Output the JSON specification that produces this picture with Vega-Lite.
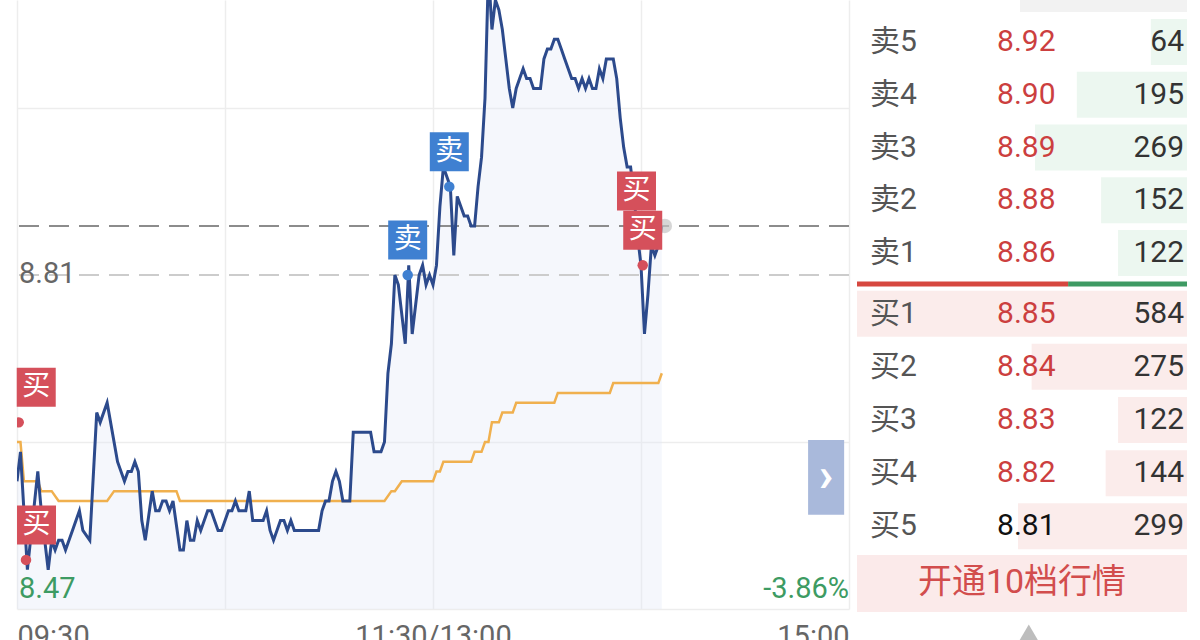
{
  "$schema": "https://vega.github.io/schema/vega-lite/v6.json",
  "background": "white",
  "padding": {"left": 16, "top": 0, "right": 0, "bottom": 0},
  "config": {"view": {"stroke": null}, "font": "Roboto"},
  "spacing": 7,
  "resolve": {"scale": {"color": "independent"}},
  "datasets": {
    "price": [
      {"t":0,"price":8.60},{"t":1,"price":8.63},{"t":3,"price":8.51},{"t":6,"price":8.61},{"t":7,"price":8.57},
      {"t":9,"price":8.51},{"t":10,"price":8.54},{"t":11,"price":8.53},{"t":12,"price":8.54},{"t":13,"price":8.54},
      {"t":14,"price":8.53},{"t":16,"price":8.55},{"t":18,"price":8.57},{"t":19,"price":8.55},{"t":21,"price":8.54},
      {"t":23,"price":8.67},{"t":24,"price":8.66},{"t":26,"price":8.68},{"t":28,"price":8.64},{"t":29,"price":8.62},
      {"t":31,"price":8.60},{"t":32,"price":8.61},{"t":33,"price":8.61},{"t":34,"price":8.62},{"t":35,"price":8.61},
      {"t":36,"price":8.56},{"t":37,"price":8.54},{"t":39,"price":8.59},{"t":40,"price":8.57},{"t":41,"price":8.57},
      {"t":42,"price":8.58},{"t":43,"price":8.58},{"t":44,"price":8.57},{"t":45,"price":8.58},{"t":47,"price":8.53},
      {"t":48,"price":8.53},{"t":49,"price":8.56},{"t":50,"price":8.54},{"t":51,"price":8.54},{"t":52,"price":8.56},
      {"t":53,"price":8.55},{"t":55,"price":8.57},{"t":56,"price":8.57},{"t":58,"price":8.55},{"t":59,"price":8.55},
      {"t":61,"price":8.57},{"t":62,"price":8.57},{"t":63,"price":8.58},{"t":64,"price":8.57},{"t":66,"price":8.57},
      {"t":67,"price":8.59},{"t":68,"price":8.56},{"t":71,"price":8.56},{"t":72,"price":8.57},{"t":73,"price":8.55},
      {"t":74,"price":8.54},{"t":76,"price":8.56},{"t":77,"price":8.56},{"t":78,"price":8.55},{"t":79,"price":8.56},
      {"t":80,"price":8.55},{"t":87,"price":8.55},{"t":88,"price":8.57},{"t":89,"price":8.58},{"t":90,"price":8.58},
      {"t":91,"price":8.60},{"t":92,"price":8.61},{"t":93,"price":8.60},{"t":94,"price":8.58},{"t":96,"price":8.58},
      {"t":97,"price":8.65},{"t":102,"price":8.65},{"t":103,"price":8.63},{"t":105,"price":8.63},{"t":106,"price":8.64},
      {"t":107,"price":8.71},{"t":108,"price":8.74},{"t":109,"price":8.81},{"t":110,"price":8.80},{"t":111,"price":8.77},
      {"t":112,"price":8.74},{"t":113,"price":8.82},{"t":114,"price":8.75},{"t":115,"price":8.78},{"t":116,"price":8.81},
      {"t":117,"price":8.82},{"t":118,"price":8.80},{"t":119,"price":8.81},{"t":120,"price":8.80},{"t":121,"price":8.82},
      {"t":122,"price":8.88},{"t":123,"price":8.92},{"t":124,"price":8.91},{"t":125,"price":8.90},{"t":126,"price":8.83},
      {"t":127,"price":8.89},{"t":128,"price":8.88},{"t":129,"price":8.87},{"t":130,"price":8.87},{"t":131,"price":8.86},
      {"t":132,"price":8.86},{"t":133,"price":8.90},{"t":134,"price":8.93},{"t":135,"price":8.99},{"t":136,"price":9.12},
      {"t":137,"price":9.06},{"t":138,"price":9.09},{"t":139,"price":9.08},{"t":140,"price":9.06},{"t":141,"price":9.03},
      {"t":142,"price":9.00},{"t":143,"price":8.98},{"t":144,"price":9.00},{"t":145,"price":9.01},{"t":146,"price":9.02},
      {"t":147,"price":9.01},{"t":148,"price":9.01},{"t":149,"price":9.00},{"t":150,"price":9.00},{"t":151,"price":9.00},
      {"t":152,"price":9.03},{"t":153,"price":9.04},{"t":154,"price":9.04},{"t":155,"price":9.05},{"t":156,"price":9.05},
      {"t":157,"price":9.04},{"t":158,"price":9.03},{"t":159,"price":9.02},{"t":160,"price":9.01},{"t":161,"price":9.01},
      {"t":162,"price":9.00},{"t":163,"price":9.01},{"t":164,"price":9.00},{"t":165,"price":9.01},{"t":166,"price":9.00},
      {"t":167,"price":9.00},{"t":168,"price":9.02},{"t":169,"price":9.01},{"t":170,"price":9.03},{"t":171,"price":9.03},
      {"t":172,"price":9.03},{"t":173,"price":9.01},{"t":174,"price":8.97},{"t":175,"price":8.94},{"t":176,"price":8.92},
      {"t":177,"price":8.92},{"t":178,"price":8.89},{"t":179,"price":8.85},{"t":180,"price":8.82},{"t":181,"price":8.75},
      {"t":182,"price":8.79},{"t":183,"price":8.84},{"t":184,"price":8.83},{"t":185,"price":8.84},{"t":186,"price":8.86}
    ],
    "avg": [
      {"t":0,"avg":8.64},{"t":1,"avg":8.64},{"t":2,"avg":8.60},{"t":6,"avg":8.60},{"t":7,"avg":8.59},
      {"t":10,"avg":8.59},{"t":12,"avg":8.58},{"t":26,"avg":8.58},{"t":28,"avg":8.59},{"t":46,"avg":8.59},
      {"t":47,"avg":8.58},{"t":106,"avg":8.58},{"t":108,"avg":8.59},{"t":109,"avg":8.59},{"t":111,"avg":8.60},
      {"t":120,"avg":8.60},{"t":121,"avg":8.61},{"t":122,"avg":8.61},{"t":123,"avg":8.62},{"t":131,"avg":8.62},
      {"t":132,"avg":8.63},{"t":134,"avg":8.63},{"t":135,"avg":8.64},{"t":136,"avg":8.64},{"t":137,"avg":8.66},
      {"t":139,"avg":8.66},{"t":140,"avg":8.67},{"t":143,"avg":8.67},{"t":144,"avg":8.68},{"t":155,"avg":8.68},
      {"t":156,"avg":8.69},{"t":171,"avg":8.69},{"t":172,"avg":8.70},{"t":185,"avg":8.70},{"t":186,"avg":8.71}
    ],
    "trades": [
      {"t":0.5,"price":8.66,"side":"买"},
      {"t":2.6,"price":8.52,"side":"买"},
      {"t":112.7,"price":8.81,"side":"卖"},
      {"t":124.7,"price":8.90,"side":"卖"},
      {"t":178.7,"price":8.86,"side":"买"},
      {"t":180.5,"price":8.82,"side":"买"}
    ],
    "book": [
      {"side":"卖","label":"卖5","price":8.92,"vol":64},
      {"side":"卖","label":"卖4","price":8.90,"vol":195},
      {"side":"卖","label":"卖3","price":8.89,"vol":269},
      {"side":"卖","label":"卖2","price":8.88,"vol":152},
      {"side":"卖","label":"卖1","price":8.86,"vol":122},
      {"side":"买","label":"买1","price":8.85,"vol":584},
      {"side":"买","label":"买2","price":8.84,"vol":275},
      {"side":"买","label":"买3","price":8.83,"vol":122},
      {"side":"买","label":"买4","price":8.82,"vol":144},
      {"side":"买","label":"买5","price":8.81,"vol":299}
    ],
    "one": [{}]
  },
  "hconcat": [
    {
      "width": 832,
      "height": 609,
      "layer": [
        {
          "data": {"name": "price"},
          "mark": {"type": "area", "color": "#dfe7f6", "opacity": 0.32, "clip": true},
          "encoding": {
            "x": {"field": "t", "type": "quantitative",
              "scale": {"domain": [0, 240], "nice": false, "zero": false},
              "axis": {"values": [0, 60, 120, 180, 240], "grid": true, "gridColor": "#ededed", "gridWidth": 1.5,
                "domain": false, "ticks": false, "title": null,
                "labelExpr": "datum.value == 0 ? '09:30' : datum.value == 120 ? '11:30/13:00' : datum.value == 240 ? '15:00' : ''",
                "labelFlush": true, "labelOverlap": false, "labelPadding": 13, "labelFontSize": 29,
                "labelColor": "#666666", "labelFont": "Roboto", "labelBaseline": "top"}},
            "y": {"field": "price", "type": "quantitative",
              "scale": {"domain": [8.47, 9.09], "nice": false, "zero": false},
              "axis": {"values": [8.47, 8.64, 8.98], "grid": true, "gridColor": "#ededed", "gridWidth": 1.5,
                "domain": false, "ticks": false, "labels": false, "title": null, "minExtent": 0}},
            "y2": {"datum": 8.47}
          }
        },
        {
          "data": {"name": "one"},
          "mark": {"type": "rule", "color": "#cccccc", "strokeWidth": 2, "strokeDash": [20, 10]},
          "encoding": {"y": {"datum": 8.81}}
        },
        {
          "data": {"name": "one"},
          "mark": {"type": "rule", "color": "#8c8c8c", "strokeWidth": 2, "strokeDash": [20, 10]},
          "encoding": {"y": {"datum": 8.86}}
        },
        {
          "data": {"name": "avg"},
          "mark": {"type": "line", "color": "#f0b04e", "strokeWidth": 2.5, "clip": true},
          "encoding": {
            "x": {"field": "t", "type": "quantitative"},
            "y": {"field": "avg", "type": "quantitative"}
          }
        },
        {
          "data": {"name": "price"},
          "mark": {"type": "line", "color": "#2c4a8c", "strokeWidth": 3, "clip": true},
          "encoding": {
            "x": {"field": "t", "type": "quantitative"},
            "y": {"field": "price", "type": "quantitative"}
          }
        },
        {
          "data": {"name": "price"},
          "transform": [{"filter": "datum.t == 186"}],
          "mark": {"type": "circle", "color": "#c4c4c4", "opacity": 0.7, "size": 210, "xOffset": 3},
          "encoding": {
            "x": {"field": "t", "type": "quantitative"},
            "y": {"field": "price", "type": "quantitative"}
          }
        },
        {
          "data": {"name": "trades"},
          "mark": {"type": "circle", "size": 110, "opacity": 1, "clip": true},
          "encoding": {
            "x": {"field": "t", "type": "quantitative"},
            "y": {"field": "price", "type": "quantitative"},
            "color": {"field": "side", "type": "nominal",
              "scale": {"domain": ["买", "卖"], "range": ["#d5505b", "#3f80d1"]}, "legend": null}
          }
        },
        {
          "data": {"name": "trades"},
          "transform": [{"filter": "datum.t < 1"}],
          "encoding": {
            "x": {"field": "t", "type": "quantitative"},
            "y": {"field": "price", "type": "quantitative"}
          },
          "layer": [
            {"mark": {"type": "point", "shape": "square", "filled": true, "size": 1521, "opacity": 1, "xOffset": 17.5, "yOffset": -35},
             "encoding": {"color": {"field": "side", "type": "nominal", "legend": null}}},
            {"mark": {"type": "text", "color": "white", "fontSize": 28, "font": "Noto Sans CJK SC", "baseline": "middle", "xOffset": 17.5, "yOffset": -35},
             "encoding": {"text": {"field": "side"}}}
          ]
        },
        {
          "data": {"name": "trades"},
          "transform": [{"filter": "datum.t >= 1 && datum.t < 5"}],
          "encoding": {
            "x": {"field": "t", "type": "quantitative"},
            "y": {"field": "price", "type": "quantitative"}
          },
          "layer": [
            {"mark": {"type": "point", "shape": "square", "filled": true, "size": 1521, "opacity": 1, "xOffset": 10.5, "yOffset": -35},
             "encoding": {"color": {"field": "side", "type": "nominal", "legend": null}}},
            {"mark": {"type": "text", "color": "white", "fontSize": 28, "font": "Noto Sans CJK SC", "baseline": "middle", "xOffset": 10.5, "yOffset": -35},
             "encoding": {"text": {"field": "side"}}}
          ]
        },
        {
          "data": {"name": "trades"},
          "transform": [{"filter": "datum.t >= 5"}],
          "encoding": {
            "x": {"field": "t", "type": "quantitative"},
            "y": {"field": "price", "type": "quantitative"}
          },
          "layer": [
            {"mark": {"type": "point", "shape": "square", "filled": true, "size": 1521, "opacity": 1, "yOffset": -35},
             "encoding": {"color": {"field": "side", "type": "nominal", "legend": null}}},
            {"mark": {"type": "text", "color": "white", "fontSize": 28, "font": "Noto Sans CJK SC", "baseline": "middle", "yOffset": -35},
             "encoding": {"text": {"field": "side"}}}
          ]
        },
        {
          "data": {"name": "one"},
          "mark": {"type": "text", "text": "8.81", "align": "left", "baseline": "alphabetic", "dx": 2, "dy": 8, "fontSize": 29, "color": "#666666"},
          "encoding": {"x": {"datum": 0}, "y": {"datum": 8.81}}
        },
        {
          "data": {"name": "one"},
          "mark": {"type": "text", "text": "8.47", "align": "left", "baseline": "alphabetic", "dx": 2, "dy": -11, "fontSize": 29, "color": "#3d9b63"},
          "encoding": {"x": {"datum": 0}, "y": {"datum": 8.47}}
        },
        {
          "data": {"name": "one"},
          "mark": {"type": "text", "text": "-3.86%", "align": "right", "baseline": "alphabetic", "dx": 0, "dy": -11, "fontSize": 29, "color": "#3d9b63"},
          "encoding": {"x": {"datum": 240}, "y": {"datum": 8.47}}
        },
        {
          "data": {"name": "one"},
          "mark": {"type": "rect", "color": "#a9b9db"},
          "encoding": {"x": {"datum": 228.2}, "x2": {"datum": 238.6}, "y": {"datum": 8.642}, "y2": {"datum": 8.566}}
        },
        {
          "data": {"name": "one"},
          "mark": {"type": "text", "text": "›", "align": "center", "baseline": "middle", "fontSize": 48, "fontWeight": "bold", "color": "white"},
          "encoding": {"x": {"datum": 233.4}, "y": {"datum": 8.604}}
        }
      ]
    },
    {
      "spacing": 0,
      "resolve": {"scale": {"color": "independent"}},
      "vconcat": [
        {
          "width": 330,
          "height": 12,
          "data": {"name": "one"},
          "mark": {"type": "bar", "color": "#f2f2f2", "size": 12},
          "encoding": {
            "x": {"datum": 295.5, "type": "quantitative", "scale": {"domain": [0, 584], "reverse": true, "nice": false}, "axis": null},
            "x2": {"datum": 0}
          }
        },
        {
          "width": 330,
          "height": 268.5,
          "data": {"name": "book"},
          "transform": [{"filter": "datum.side == '卖'"}],
          "encoding": {
            "y": {"field": "label", "type": "nominal", "sort": ["卖5", "卖4", "卖3", "卖2", "卖1"],
              "scale": {"paddingInner": 0.128, "paddingOuter": 0.109, "align": 0.609}, "axis": null}
          },
          "layer": [
            {"mark": {"type": "bar", "color": "#ecf7f0"},
             "encoding": {"x": {"field": "vol", "type": "quantitative", "scale": {"domain": [0, 584], "reverse": true, "nice": false}, "axis": null}}},
            {"mark": {"type": "text", "align": "left", "baseline": "middle", "fontSize": 30, "color": "#555555", "font": "Roboto, Noto Sans CJK SC"},
             "encoding": {"x": {"datum": 561}, "text": {"field": "label"}}},
            {"mark": {"type": "text", "align": "left", "baseline": "middle", "fontSize": 30},
             "encoding": {"x": {"datum": 336.2}, "text": {"field": "price", "format": ".2f"},
               "color": {"condition": {"test": "datum.price > 8.81", "value": "#cc3f3f"}, "value": "#111111"}}},
            {"mark": {"type": "text", "align": "right", "baseline": "middle", "fontSize": 30, "color": "#333333"},
             "encoding": {"x": {"datum": 5.3}, "text": {"field": "vol"}}}
          ]
        },
        {
          "width": 330,
          "height": 6,
          "data": {"name": "book"},
          "mark": {"type": "bar", "size": 5},
          "encoding": {
            "x": {"aggregate": "sum", "field": "vol", "type": "quantitative", "scale": {"domain": [0, 2226], "nice": false}, "axis": null},
            "color": {"field": "side", "type": "nominal", "scale": {"domain": ["买", "卖"], "range": ["#d6473f", "#3e9a63"]}, "legend": null},
            "order": {"field": "side", "sort": "ascending"}
          }
        },
        {
          "width": 330,
          "height": 266,
          "data": {"name": "book"},
          "transform": [{"filter": "datum.side == '买'"}],
          "encoding": {
            "y": {"field": "label", "type": "nominal", "sort": ["买1", "买2", "买3", "买4", "买5"],
              "scale": {"paddingInner": 0.135, "paddingOuter": 0.07}, "axis": null}
          },
          "layer": [
            {"mark": {"type": "bar", "color": "#fbeceb"},
             "encoding": {"x": {"field": "vol", "type": "quantitative", "scale": {"domain": [0, 584], "reverse": true, "nice": false}, "axis": null}}},
            {"mark": {"type": "text", "align": "left", "baseline": "middle", "fontSize": 30, "color": "#555555", "font": "Roboto, Noto Sans CJK SC"},
             "encoding": {"x": {"datum": 561}, "text": {"field": "label"}}},
            {"mark": {"type": "text", "align": "left", "baseline": "middle", "fontSize": 30},
             "encoding": {"x": {"datum": 336.2}, "text": {"field": "price", "format": ".2f"},
               "color": {"condition": {"test": "datum.price > 8.81", "value": "#cc3f3f"}, "value": "#111111"}}},
            {"mark": {"type": "text", "align": "right", "baseline": "middle", "fontSize": 30, "color": "#333333"},
             "encoding": {"x": {"datum": 5.3}, "text": {"field": "vol"}}}
          ]
        },
        {
          "width": 330,
          "height": 87.5,
          "data": {"values": [{"row": "btn", "text": "开通10档行情"}, {"row": "arrow", "text": ""}]},
          "encoding": {
            "y": {"field": "row", "type": "nominal",
              "scale": {"type": "point", "domain": ["btn", "arrow"], "padding": 0.393, "align": 0.792}, "axis": null}
          },
          "layer": [
            {"transform": [{"filter": "datum.row == 'btn'"}],
             "mark": {"type": "bar", "color": "#fbeaea", "size": 57},
             "encoding": {"x": {"datum": 584, "type": "quantitative", "scale": {"domain": [0, 584], "reverse": true, "nice": false}, "axis": null}, "x2": {"datum": 0}}},
            {"transform": [{"filter": "datum.row == 'btn'"}],
             "mark": {"type": "text", "fontSize": 34, "color": "#d24d4d", "font": "Roboto, Noto Sans CJK SC", "baseline": "middle", "align": "center"},
             "encoding": {"x": {"datum": 292}, "text": {"field": "text"}}},
            {"transform": [{"filter": "datum.row == 'arrow'"}],
             "mark": {"type": "point", "shape": "triangle-up", "filled": true, "color": "#bdbdbd", "size": 350, "opacity": 1},
             "encoding": {"x": {"datum": 280}}}
          ]
        }
      ]
    }
  ]
}
